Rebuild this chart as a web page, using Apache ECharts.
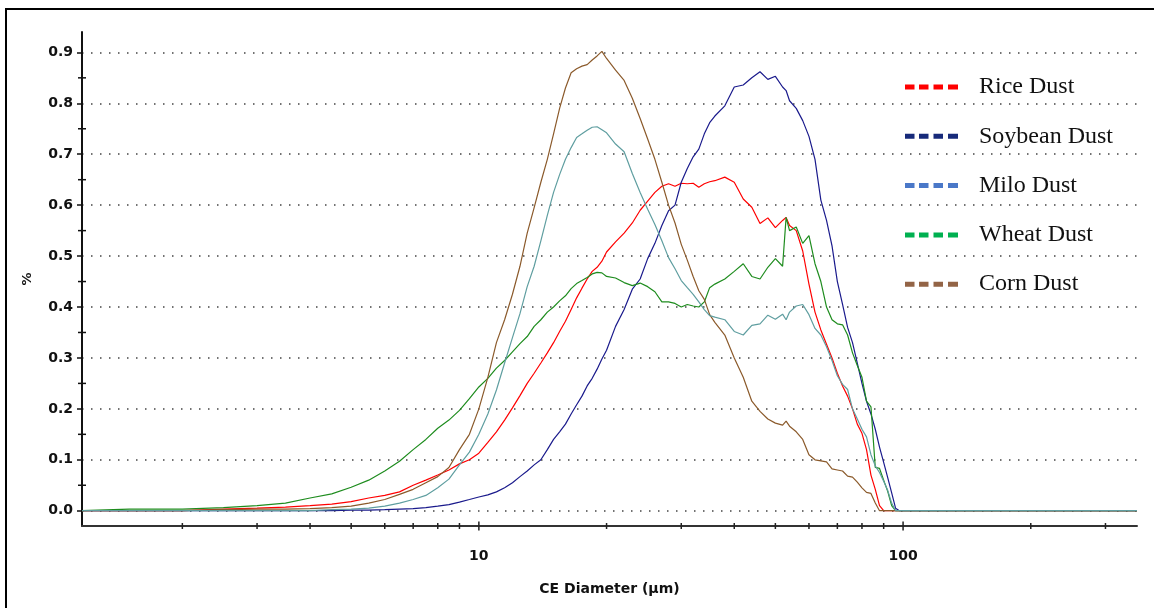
<!DOCTYPE html>
<html><head><meta charset="utf-8">
<script src="https://cdn.jsdelivr.net/npm/echarts@6/dist/echarts.min.js"></script>
<style>html,body{margin:0;padding:0;background:#fff}#c{width:1154px;height:608px}</style>
</head><body><div id="c"></div>
<script>
// CE diameter (µm) sample positions
const diameters = [1.16,1.5,2,2.5,3,3.5,4,4.5,5,5.5,6,6.5,7,7.5,8,8.5,9,9.5,10,
  10.5,11,11.5,12,12.5,13,13.5,14,14.5,15,15.5,16,16.5,17,17.5,18,18.5,19,19.5,20,
  21,22,23,24,25,26,27,28,29,30,31,32,33,34,35,36,
  38,40,42,44,46,48,50,52,53,
  54,56,58,60,62,64,66,68,70,72,74,76,78,80,82,84,86,88,90,92,94,96,98,100,
  150,200,356];

const rice = [0,0,0,0.003,0.005,0.007,0.01,0.013,0.018,0.025,0.03,0.037,0.05,0.06,0.07,0.08,0.092,0.1,0.113,
  0.134,0.155,0.178,0.202,0.226,0.25,0.27,0.29,0.31,0.33,0.352,0.372,0.395,0.418,0.437,0.455,0.47,0.478,0.49,0.508,
  0.528,0.545,0.565,0.59,0.608,0.625,0.637,0.642,0.637,0.643,0.642,0.643,0.635,0.642,0.646,0.648,
  0.655,0.645,0.612,0.596,0.564,0.575,0.556,0.57,0.576,
  0.56,0.55,0.51,0.445,0.39,0.355,0.327,0.3,0.27,0.245,0.225,0.2,0.17,0.152,0.12,0.07,0.042,0.01,0,0,0,0,0,0,
  0,0,0];

const soybean = [0,0,0,0,0,0,0,0,0.001,0.001,0.002,0.003,0.004,0.006,0.009,0.012,0.017,0.022,0.027,
  0.031,0.037,0.045,0.055,0.067,0.078,0.09,0.1,0.12,0.14,0.155,0.17,0.19,0.208,0.225,0.245,0.26,0.278,0.298,0.315,
  0.362,0.395,0.435,0.455,0.495,0.525,0.56,0.589,0.6,0.645,0.672,0.695,0.71,0.74,0.762,0.775,
  0.795,0.832,0.836,0.85,0.862,0.847,0.853,0.832,0.825,
  0.805,0.79,0.766,0.735,0.69,0.61,0.57,0.52,0.45,0.405,0.36,0.33,0.29,0.25,0.215,0.19,0.16,0.125,0.095,0.065,0.035,0.005,0,0,
  0,0,0];

const milo = [0,0,0,0,0,0,0,0.002,0.003,0.005,0.009,0.015,0.022,0.03,0.045,0.062,0.09,0.115,0.15,
  0.19,0.237,0.29,0.34,0.387,0.44,0.48,0.53,0.58,0.625,0.66,0.69,0.713,0.733,0.74,0.747,0.753,0.754,0.748,0.742,
  0.72,0.705,0.662,0.625,0.592,0.562,0.53,0.497,0.475,0.452,0.438,0.425,0.41,0.395,0.383,0.38,
  0.375,0.352,0.345,0.364,0.367,0.384,0.376,0.386,0.375,
  0.39,0.402,0.405,0.385,0.358,0.345,0.322,0.295,0.265,0.248,0.238,0.2,0.18,0.16,0.145,0.11,0.088,0.075,0.058,0.04,0.015,0,0,0,
  0,0,0];

const wheat = [0,0.003,0.003,0.006,0.01,0.015,0.025,0.033,0.046,0.06,0.078,0.097,0.12,0.14,0.162,0.178,0.197,0.22,0.243,
  0.26,0.28,0.295,0.312,0.328,0.342,0.362,0.375,0.39,0.4,0.412,0.422,0.436,0.446,0.452,0.458,0.465,0.468,0.467,0.46,
  0.457,0.448,0.442,0.447,0.44,0.43,0.41,0.41,0.407,0.4,0.405,0.402,0.4,0.41,0.438,0.445,
  0.455,0.47,0.485,0.46,0.455,0.478,0.495,0.48,0.576,
  0.55,0.557,0.525,0.54,0.485,0.45,0.4,0.375,0.367,0.365,0.345,0.31,0.285,0.262,0.215,0.204,0.085,0.083,0.06,0.038,0.01,0,0,0,
  0,0,0];

const corn = [0,0,0,0.002,0.003,0.003,0.004,0.006,0.009,0.015,0.022,0.032,0.042,0.055,0.067,0.085,0.12,0.15,0.2,
  0.262,0.33,0.375,0.425,0.48,0.545,0.595,0.645,0.69,0.74,0.79,0.83,0.86,0.868,0.873,0.876,0.885,0.893,0.902,0.888,
  0.865,0.845,0.81,0.77,0.73,0.69,0.645,0.6,0.565,0.523,0.492,0.46,0.432,0.415,0.385,0.37,
  0.345,0.3,0.262,0.215,0.195,0.18,0.172,0.168,0.176,
  0.166,0.155,0.14,0.11,0.1,0.098,0.096,0.082,0.08,0.078,0.068,0.066,0.056,0.045,0.036,0.034,0.015,0,0,0,0,0,0,0,
  0,0,0];

const seriesNames = ['Rice Dust','Soybean Dust','Milo Dust','Wheat Dust','Corn Dust'];
const seriesValues = [rice, soybean, milo, wheat, corn];
const lineColors = ['#ff0000','#1a1a8c','#5f9ea0','#1e8c1e','#8b5a2b'];
const legendColors = ['#ff0000','#172a7a','#4a78c8','#00b050','#936446'];
const drawOrder = [0, 1, 3, 4, 2];

const xTicks = [2,3,4,5,6,7,8,9,10,20,30,40,50,60,70,80,90,100,200,300];
const xLabels = [10,100];
const yLabels = [0,0.1,0.2,0.3,0.4,0.5,0.6,0.7,0.8,0.9];
const yMinor = [0.05,0.15,0.25,0.35,0.45,0.55,0.65,0.75,0.85];
const xMin = 1.16, xMax = 356, yMin = -0.03, yMax = 0.94;

const lblFont = {fontFamily:'DejaVu Sans', fontWeight:'bold', fontSize:14, color:'#111'};

const series = drawOrder.map(i => ({
  type:'line', name: seriesNames[i], showSymbol:false, symbol:'none',
  lineStyle:{color: lineColors[i], width:1.2}, itemStyle:{color: lineColors[i]},
  data: diameters.map((d, k) => [d, seriesValues[i][k]]),
  z: 3 + (i === 2 ? 1 : 0)
}));

series.push({
  type:'custom', name:'_xticks', silent:true, clip:false, z:6,
  data: xTicks.map(v => [v, yMin]),
  renderItem: (p, api) => {
    const v = api.value(0);
    const pt = api.coord([v, api.value(1)]);
    const major = xLabels.some(l => Math.abs(l - v) < 1e-9);
    const h = major ? 4.5 : 3;
    return {type:'line', shape:{x1:pt[0], y1:pt[1]-h, x2:pt[0], y2:pt[1]+h}, style:{stroke:'#222', lineWidth:1.5}};
  }
});
series.push({
  type:'custom', name:'_yticks', silent:true, clip:false, z:6,
  data: yMinor.map(v => [xMin, v]),
  renderItem: (p, api) => {
    const pt = api.coord([api.value(0), api.value(1)]);
    return {type:'line', shape:{x1:pt[0]-4, y1:pt[1], x2:pt[0]+4, y2:pt[1]}, style:{stroke:'#111', lineWidth:1.5}};
  }
});

const chart = echarts.init(document.getElementById('c'), null, {renderer:'canvas'});
chart.setOption({
  animation:false,
  backgroundColor:'#fff',
  grid:{left:82, right:17, top:32, bottom:82, containLabel:false},
  graphic:[{type:'rect', silent:true, z:-1, shape:{x:6, y:9, width:1170, height:630},
    style:{fill:'none', stroke:'#000', lineWidth:2}}],
  legend:{
    orient:'vertical', left:905, top:74, padding:0, itemWidth:53, itemHeight:5, itemGap:23.3,
    selectedMode:false,
    icon:'path://M0 0H9.5V5H0Z M14 0H23.5V5H14Z M28.5 0H38V5H28.5Z M43 0H53V5H43Z',
    itemStyle:{borderWidth:0},
    textStyle:{fontFamily:'Liberation Serif', fontSize:24, color:'#111', padding:[0,0,0,16], lineHeight:26},
    data: seriesNames.map((n, i) => ({name:n, itemStyle:{color:legendColors[i], borderWidth:0}}))
  },
  xAxis:{
    type:'log', logBase:10, min:xMin, max:xMax,
    axisLine:{show:true, onZero:false, lineStyle:{color:'#333', width:2}},
    axisTick:{show:false}, splitLine:{show:false},
    axisLabel:Object.assign({margin:23, showMinLabel:false, showMaxLabel:false,
      formatter: v => { const m = xLabels.find(l => Math.abs(l - v) < 1e-6 * l); return m ? String(m) : ''; }}, lblFont),
    name:'CE Diameter (µm)', nameLocation:'middle', nameGap:56, nameMoveOverlap:false,
    nameTextStyle:Object.assign({}, lblFont, {fontSize:14})
  },
  yAxis:{
    type:'value', min:yMin, max:yMax,
    axisLine:{show:true, lineStyle:{color:'#111', width:2}},
    axisTick:{show:true, customValues:yLabels, length:5, lineStyle:{color:'#111', width:1.5}},
    axisLabel:Object.assign({customValues:yLabels, margin:9, formatter: v => v.toFixed(1)}, lblFont),
    splitLine:{show:true, lineStyle:{type:[1.5,7.5], color:'#444', width:1.5}},
    name:'%', nameLocation:'middle', nameRotate:90, nameGap:48, nameMoveOverlap:false,
    nameTextStyle:Object.assign({}, lblFont, {fontSize:13})
  },
  series: series
});
</script></body></html>
